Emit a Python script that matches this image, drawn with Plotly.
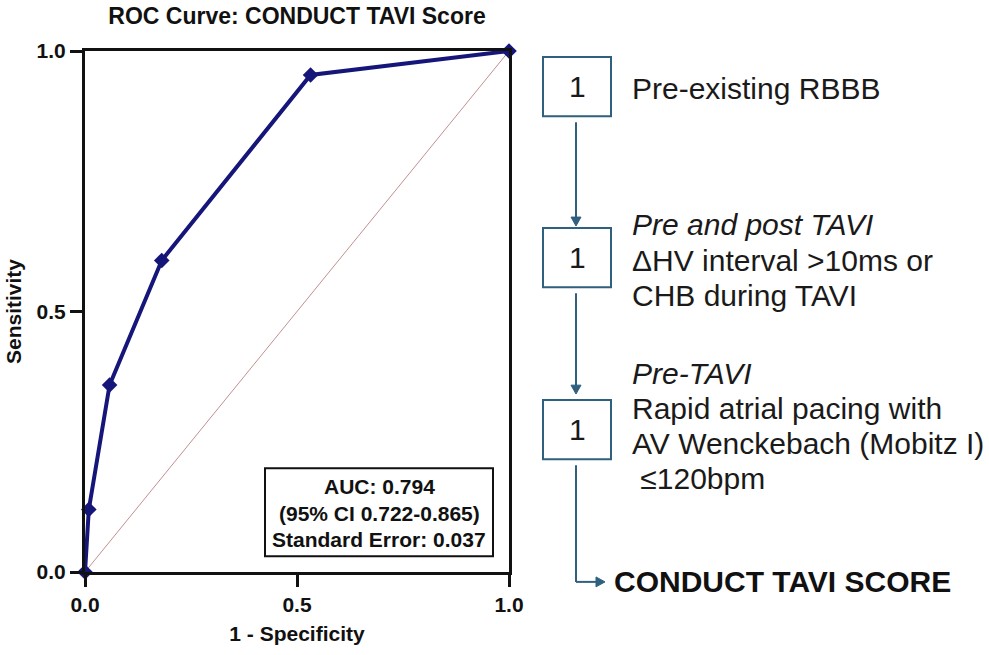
import plotly.graph_objects as go

# ROC operating points of the CONDUCT TAVI score
fpr = [0.0, 0.009, 0.058, 0.181, 0.532, 1.0]
tpr = [0.0, 0.120, 0.359, 0.598, 0.954, 1.0]

axis_ticks = [0.0, 0.5, 1.0]
stats_lines = ["AUC: 0.794", "(95% CI 0.722-0.865)", "Standard Error: 0.037"]

score_points = ["1", "1", "1"]
criteria = [
    ["Pre-existing RBBB"],
    ["<i>Pre and post TAVI</i>", "\u0394HV interval &gt;10ms or", "CHB during TAVI"],
    ["<i>Pre-TAVI</i>", "Rapid atrial pacing with", "AV Wenckebach (Mobitz I)",
     "\u00a0\u2264120bpm"],
]
result_label = "CONDUCT TAVI SCORE"

W, H = 989, 655
L, R, T, B = 85, 509, 51, 578          # plot area in pixels
FONT = "Arial, Liberation Sans, Helvetica, sans-serif"
NAVY = "#16167a"
FLOW = "#2f607e"
INK = "#111111"


def px(x):
    return (x - L) / (R - L)


def py(y):
    return (B - y) / (B - T)


fig = go.Figure()

# chance diagonal
fig.add_trace(go.Scatter(
    x=[0, 1], y=[0, 1], mode="lines",
    line=dict(color="#c19090", width=1),
    hoverinfo="skip", showlegend=False,
))

# ROC curve
fig.add_trace(go.Scatter(
    x=fpr, y=tpr, mode="lines+markers",
    line=dict(color=NAVY, width=4),
    marker=dict(symbol="diamond", size=12, color=NAVY),
    cliponaxis=False, showlegend=False,
))

shapes = []
annotations = []

# statistics box
shapes.append(dict(type="rect", xref="paper", yref="paper",
                   x0=px(265), x1=px(493), y0=py(562), y1=py(473),
                   line=dict(color=INK, width=2), fillcolor="white",
                   layer="above"))
for i, line in enumerate(stats_lines):
    annotations.append(dict(
        xref="paper", yref="paper", x=px(379), y=py(492 + 26.5 * i),
        text=f"<b>{line}</b>", showarrow=False,
        xanchor="center", yanchor="middle",
        font=dict(family=FONT, size=21, color=INK),
    ))

# flowchart boxes and criteria text
box_tops = [57, 230, 404]
box_h = 60
bx0, bx1 = 543, 611
first_line_y = [89, 227, 377]
line_step = 35.5
for top, pts, crit, y0 in zip(box_tops, score_points, criteria, first_line_y):
    shapes.append(dict(type="rect", xref="paper", yref="paper",
                       x0=px(bx0), x1=px(bx1), y0=py(top + box_h), y1=py(top),
                       line=dict(color=FLOW, width=2), fillcolor="white"))
    annotations.append(dict(
        xref="paper", yref="paper", x=px((bx0 + bx1) / 2), y=py(top + box_h / 2),
        text=pts, showarrow=False, xanchor="center", yanchor="middle",
        font=dict(family=FONT, size=30, color="#1a1a1a"),
    ))
    for j, line in enumerate(crit):
        annotations.append(dict(
            xref="paper", yref="paper", x=px(630), y=py(y0 + line_step * j),
            text=line, showarrow=False, xanchor="left", yanchor="middle",
            align="left", font=dict(family=FONT, size=30, color="#1a1a1a"),
        ))

annotations.append(dict(
    xref="paper", yref="paper", x=px(612), y=py(588),
    text=f"<b>{result_label}</b>", showarrow=False,
    xanchor="left", yanchor="middle",
    font=dict(family=FONT, size=30, color=INK),
))

# connectors
cx = 576


def seg(x0, y0, x1, y1):
    shapes.append(dict(type="line", xref="paper", yref="paper",
                       x0=px(x0), y0=py(y0), x1=px(x1), y1=py(y1),
                       line=dict(color=FLOW, width=2)))


def head_down(x, tip):
    path = (f"M {px(x - 5)} {py(tip - 9)} L {px(x + 5)} {py(tip - 9)} "
            f"L {px(x)} {py(tip)} Z")
    shapes.append(dict(type="path", xref="paper", yref="paper", path=path,
                       fillcolor=FLOW, line=dict(color=FLOW, width=1)))


def head_right(tip, y):
    path = (f"M {px(tip - 9)} {py(y - 5)} L {px(tip - 9)} {py(y + 5)} "
            f"L {px(tip)} {py(y)} Z")
    shapes.append(dict(type="path", xref="paper", yref="paper", path=path,
                       fillcolor=FLOW, line=dict(color=FLOW, width=1)))


seg(cx, 123, cx, 220)
head_down(cx, 228)
seg(cx, 296, cx, 390)
head_down(cx, 398)
seg(cx, 470, cx, 588)
seg(cx, 588, 598, 588)
head_right(605, 588)

axis_common = dict(
    range=[0, 1], tickvals=axis_ticks,
    ticktext=[f"<b>{v:.1f}</b>" for v in axis_ticks],
    showline=True, linecolor=INK, linewidth=3, mirror=True,
    ticks="outside", ticklen=12, tickwidth=3, tickcolor=INK,
    showgrid=False, zeroline=False,
    tickfont=dict(family=FONT, size=21, color=INK),
    title_font=dict(family=FONT, size=21, color=INK),
)

fig.update_layout(
    width=W, height=H,
    margin=dict(l=L, r=W - R, t=T, b=H - B),
    paper_bgcolor="white", plot_bgcolor="white",
    title=dict(text="<b>ROC Curve: CONDUCT TAVI Score</b>",
               x=px(297), xref="paper", xanchor="center",
               y=1 - 16 / H, yref="container", yanchor="middle",
               font=dict(family=FONT, size=23, color=INK)),
    xaxis=dict(axis_common, title=dict(text="<b>1 - Specificity</b>", standoff=12)),
    yaxis=dict(axis_common, title=dict(text="<b>Sensitivity</b>", standoff=10)),
    shapes=shapes, annotations=annotations,
)

fig.write_html("out.html")
